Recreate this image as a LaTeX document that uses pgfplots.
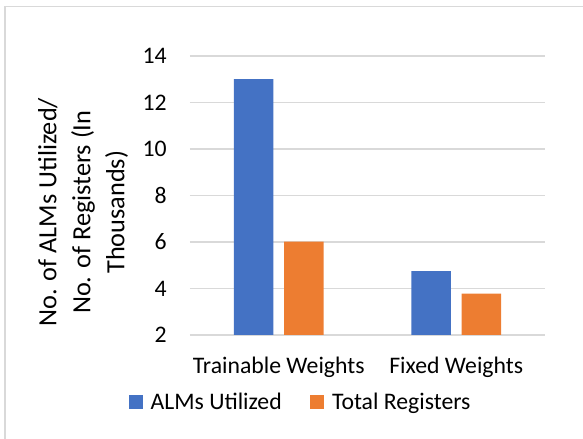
\documentclass[border=0pt]{standalone}
\usepackage{pgfplots}
\pgfplotsset{compat=1.18}
\usepackage{fontspec}
\setmainfont{Carlito}
\definecolor{almblue}{HTML}{4472C4}
\definecolor{regorange}{HTML}{ED7D31}
\definecolor{gridgray}{HTML}{D9D9D9}
\begin{document}
\begin{tikzpicture}
\useasboundingbox (0,0) rectangle (437.25pt,329.25pt);
% chart frame (top and left edges)
\draw[gridgray, line width=0.9pt] (3.75pt,0) -- (3.75pt,324.4pt) -- (437.25pt,324.4pt);
\begin{axis}[
  at={(142.5pt,78pt)}, anchor=south west,
  scale only axis,
  width=266.25pt, height=209.25pt,
  ybar,
  bar width=0.2225,
  xmin=-0.5, xmax=1.5,
  ymin=2, ymax=14,
  ytick={2,4,...,14},
  xtick={0,1},
  xticklabels={Trainable Weights, Fixed Weights},
  axis line style={draw=none},
  major tick length=0pt,
  ymajorgrids,
  grid style={gridgray, line width=0.9pt},
  font=\fontsize{17.8pt}{21pt}\selectfont,
  /pgf/number format/assume math mode=true,
  yticklabel style={anchor=east, inner sep=0pt, xshift=-17.25pt},
  xticklabel style={anchor=base, inner sep=0pt, yshift=-29.25pt},
  ylabel={No. of ALMs Utilized/\\No. of Registers (In\\Thousands)},
  ylabel style={at={(axis description cs:-0.301,0.44)}, anchor=center, rotate=0, align=center, font=\fontsize{19.7pt}{25.5pt}\selectfont},
  legend columns=2,
  legend style={at={(axis description cs:-0.1718,-0.283)}, anchor=south west, draw=none, fill=none, inner sep=0pt, outer sep=0pt,
    cells={anchor=base west, inner sep=0pt},
    /tikz/every odd column/.append style={column sep=3.75pt},
    /tikz/every even column/.append style={column sep=19.5pt}},
  legend image code/.code={\fill[#1] (0pt,0pt) rectangle (10.5pt,10.5pt);},
]
\addplot[fill=almblue, draw=none, bar shift=-0.142] coordinates {(0,13.0) (1,4.75)};
\addplot[fill=regorange, draw=none, bar shift=0.142] coordinates {(0,6.02) (1,3.78)};
\legend{ALMs Utilized, Total Registers}
\end{axis}
\end{tikzpicture}
\end{document}
